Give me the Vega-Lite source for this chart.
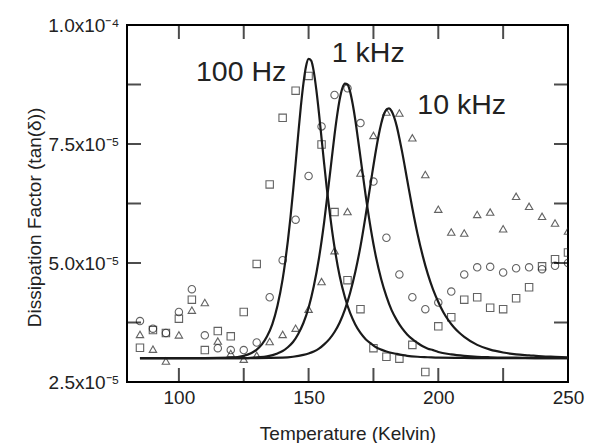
{
  "$schema": "https://vega.github.io/schema/vega-lite/v6.json",
  "width": 441,
  "height": 357,
  "autosize": "none",
  "padding": {"left": 127, "top": 25, "right": 22, "bottom": 61},
  "background": "white",
  "config": {
    "font": "Liberation Sans",
    "view": {"stroke": "black", "strokeWidth": 2},
    "axis": {
      "grid": false,
      "domain": false,
      "ticks": false,
      "labelColor": "#222",
      "titleColor": "#222",
      "labelFont": "Liberation Sans",
      "titleFont": "Liberation Sans",
      "labelFontSize": 19,
      "titleFontSize": 19,
      "titleFontWeight": "normal",
      "labelFlush": false,
      "labelOverlap": false
    }
  },
  "datasets": {
    "points": [
      {"T": 85, "tand": 3.22e-5, "freq": "100 Hz"}, {"T": 90, "tand": 3.59e-5, "freq": "100 Hz"}, {"T": 95, "tand": 3.53e-5, "freq": "100 Hz"}, {"T": 100, "tand": 3.83e-5, "freq": "100 Hz"}, {"T": 105, "tand": 4.23e-5, "freq": "100 Hz"}, {"T": 110, "tand": 3.17e-5, "freq": "100 Hz"}, {"T": 115, "tand": 3.57e-5, "freq": "100 Hz"}, {"T": 120, "tand": 3.46e-5, "freq": "100 Hz"}, {"T": 125, "tand": 3.97e-5, "freq": "100 Hz"}, {"T": 130, "tand": 4.98e-5, "freq": "100 Hz"}, {"T": 135, "tand": 6.65e-5, "freq": "100 Hz"}, {"T": 140, "tand": 8.05e-5, "freq": "100 Hz"}, {"T": 145, "tand": 8.62e-5, "freq": "100 Hz"}, {"T": 150, "tand": 8.93e-5, "freq": "100 Hz"}, {"T": 155, "tand": 7.49e-5, "freq": "100 Hz"}, {"T": 160, "tand": 6.07e-5, "freq": "100 Hz"}, {"T": 165, "tand": 4.64e-5, "freq": "100 Hz"}, {"T": 170, "tand": 4.03e-5, "freq": "100 Hz"}, {"T": 175, "tand": 3.21e-5, "freq": "100 Hz"}, {"T": 180, "tand": 3.03e-5, "freq": "100 Hz"}, {"T": 185, "tand": 2.99e-5, "freq": "100 Hz"}, {"T": 190, "tand": 3.28e-5, "freq": "100 Hz"}, {"T": 195, "tand": 2.71e-5, "freq": "100 Hz"}, {"T": 200, "tand": 3.67e-5, "freq": "100 Hz"}, {"T": 205, "tand": 3.86e-5, "freq": "100 Hz"}, {"T": 210, "tand": 4.23e-5, "freq": "100 Hz"}, {"T": 215, "tand": 4.28e-5, "freq": "100 Hz"}, {"T": 220, "tand": 4.06e-5, "freq": "100 Hz"}, {"T": 225, "tand": 4.03e-5, "freq": "100 Hz"}, {"T": 230, "tand": 4.26e-5, "freq": "100 Hz"}, {"T": 235, "tand": 4.49e-5, "freq": "100 Hz"}, {"T": 240, "tand": 4.93e-5, "freq": "100 Hz"}, {"T": 245, "tand": 5.08e-5, "freq": "100 Hz"}, {"T": 250, "tand": 5.22e-5, "freq": "100 Hz"},
      {"T": 85, "tand": 3.78e-5, "freq": "1 kHz"}, {"T": 90, "tand": 3.62e-5, "freq": "1 kHz"}, {"T": 95, "tand": 3.53e-5, "freq": "1 kHz"}, {"T": 100, "tand": 3.97e-5, "freq": "1 kHz"}, {"T": 105, "tand": 4.45e-5, "freq": "1 kHz"}, {"T": 110, "tand": 3.48e-5, "freq": "1 kHz"}, {"T": 115, "tand": 3.21e-5, "freq": "1 kHz"}, {"T": 120, "tand": 3.17e-5, "freq": "1 kHz"}, {"T": 125, "tand": 3.17e-5, "freq": "1 kHz"}, {"T": 130, "tand": 3.33e-5, "freq": "1 kHz"}, {"T": 135, "tand": 4.28e-5, "freq": "1 kHz"}, {"T": 140, "tand": 5.06e-5, "freq": "1 kHz"}, {"T": 145, "tand": 5.91e-5, "freq": "1 kHz"}, {"T": 150, "tand": 6.83e-5, "freq": "1 kHz"}, {"T": 155, "tand": 7.87e-5, "freq": "1 kHz"}, {"T": 160, "tand": 8.53e-5, "freq": "1 kHz"}, {"T": 165, "tand": 8.67e-5, "freq": "1 kHz"}, {"T": 170, "tand": 7.94e-5, "freq": "1 kHz"}, {"T": 175, "tand": 6.71e-5, "freq": "1 kHz"}, {"T": 180, "tand": 5.53e-5, "freq": "1 kHz"}, {"T": 185, "tand": 4.76e-5, "freq": "1 kHz"}, {"T": 190, "tand": 4.28e-5, "freq": "1 kHz"}, {"T": 195, "tand": 4.03e-5, "freq": "1 kHz"}, {"T": 200, "tand": 4.17e-5, "freq": "1 kHz"}, {"T": 205, "tand": 4.40e-5, "freq": "1 kHz"}, {"T": 210, "tand": 4.76e-5, "freq": "1 kHz"}, {"T": 215, "tand": 4.91e-5, "freq": "1 kHz"}, {"T": 220, "tand": 4.92e-5, "freq": "1 kHz"}, {"T": 225, "tand": 4.80e-5, "freq": "1 kHz"}, {"T": 230, "tand": 4.89e-5, "freq": "1 kHz"}, {"T": 235, "tand": 4.91e-5, "freq": "1 kHz"}, {"T": 240, "tand": 4.87e-5, "freq": "1 kHz"}, {"T": 245, "tand": 4.94e-5, "freq": "1 kHz"}, {"T": 250, "tand": 5.00e-5, "freq": "1 kHz"},
      {"T": 85, "tand": 3.50e-5, "freq": "10 kHz"}, {"T": 90, "tand": 3.19e-5, "freq": "10 kHz"}, {"T": 95, "tand": 2.94e-5, "freq": "10 kHz"}, {"T": 100, "tand": 3.49e-5, "freq": "10 kHz"}, {"T": 105, "tand": 4.01e-5, "freq": "10 kHz"}, {"T": 110, "tand": 4.17e-5, "freq": "10 kHz"}, {"T": 115, "tand": 3.36e-5, "freq": "10 kHz"}, {"T": 120, "tand": 3.10e-5, "freq": "10 kHz"}, {"T": 125, "tand": 2.98e-5, "freq": "10 kHz"}, {"T": 130, "tand": 3.06e-5, "freq": "10 kHz"}, {"T": 135, "tand": 3.35e-5, "freq": "10 kHz"}, {"T": 140, "tand": 3.50e-5, "freq": "10 kHz"}, {"T": 145, "tand": 3.63e-5, "freq": "10 kHz"}, {"T": 150, "tand": 4.03e-5, "freq": "10 kHz"}, {"T": 155, "tand": 4.61e-5, "freq": "10 kHz"}, {"T": 160, "tand": 5.26e-5, "freq": "10 kHz"}, {"T": 165, "tand": 6.08e-5, "freq": "10 kHz"}, {"T": 170, "tand": 6.89e-5, "freq": "10 kHz"}, {"T": 175, "tand": 7.68e-5, "freq": "10 kHz"}, {"T": 180, "tand": 8.17e-5, "freq": "10 kHz"}, {"T": 185, "tand": 8.15e-5, "freq": "10 kHz"}, {"T": 190, "tand": 7.63e-5, "freq": "10 kHz"}, {"T": 195, "tand": 6.86e-5, "freq": "10 kHz"}, {"T": 200, "tand": 6.13e-5, "freq": "10 kHz"}, {"T": 205, "tand": 5.65e-5, "freq": "10 kHz"}, {"T": 210, "tand": 5.63e-5, "freq": "10 kHz"}, {"T": 215, "tand": 6.02e-5, "freq": "10 kHz"}, {"T": 220, "tand": 6.07e-5, "freq": "10 kHz"}, {"T": 225, "tand": 5.72e-5, "freq": "10 kHz"}, {"T": 230, "tand": 6.40e-5, "freq": "10 kHz"}, {"T": 235, "tand": 6.19e-5, "freq": "10 kHz"}, {"T": 240, "tand": 5.98e-5, "freq": "10 kHz"}, {"T": 245, "tand": 5.84e-5, "freq": "10 kHz"}, {"T": 250, "tand": 5.67e-5, "freq": "10 kHz"}
    ],
    "fits": [
      {"T": 85, "tand": 3.0e-5, "freq": "100 Hz"}, {"T": 100, "tand": 3.0e-5, "freq": "100 Hz"}, {"T": 110, "tand": 3.0e-5, "freq": "100 Hz"}, {"T": 120, "tand": 3.01e-5, "freq": "100 Hz"}, {"T": 125, "tand": 3.05e-5, "freq": "100 Hz"}, {"T": 128, "tand": 3.11e-5, "freq": "100 Hz"}, {"T": 130, "tand": 3.18e-5, "freq": "100 Hz"}, {"T": 132, "tand": 3.29e-5, "freq": "100 Hz"}, {"T": 134, "tand": 3.46e-5, "freq": "100 Hz"}, {"T": 136, "tand": 3.71e-5, "freq": "100 Hz"}, {"T": 138, "tand": 4.10e-5, "freq": "100 Hz"}, {"T": 140, "tand": 4.66e-5, "freq": "100 Hz"}, {"T": 141, "tand": 5.03e-5, "freq": "100 Hz"}, {"T": 142, "tand": 5.46e-5, "freq": "100 Hz"}, {"T": 143, "tand": 5.95e-5, "freq": "100 Hz"}, {"T": 144, "tand": 6.50e-5, "freq": "100 Hz"}, {"T": 145, "tand": 7.09e-5, "freq": "100 Hz"}, {"T": 146, "tand": 7.70e-5, "freq": "100 Hz"}, {"T": 147, "tand": 8.28e-5, "freq": "100 Hz"}, {"T": 148, "tand": 8.77e-5, "freq": "100 Hz"}, {"T": 149, "tand": 9.13e-5, "freq": "100 Hz"}, {"T": 150, "tand": 9.29e-5, "freq": "100 Hz"}, {"T": 151, "tand": 9.25e-5, "freq": "100 Hz"}, {"T": 152, "tand": 9.02e-5, "freq": "100 Hz"}, {"T": 153, "tand": 8.63e-5, "freq": "100 Hz"}, {"T": 154, "tand": 8.15e-5, "freq": "100 Hz"}, {"T": 155, "tand": 7.62e-5, "freq": "100 Hz"}, {"T": 156, "tand": 7.09e-5, "freq": "100 Hz"}, {"T": 157, "tand": 6.58e-5, "freq": "100 Hz"}, {"T": 158, "tand": 6.12e-5, "freq": "100 Hz"}, {"T": 159, "tand": 5.70e-5, "freq": "100 Hz"}, {"T": 160, "tand": 5.33e-5, "freq": "100 Hz"}, {"T": 162, "tand": 4.72e-5, "freq": "100 Hz"}, {"T": 164, "tand": 4.28e-5, "freq": "100 Hz"}, {"T": 166, "tand": 3.95e-5, "freq": "100 Hz"}, {"T": 168, "tand": 3.71e-5, "freq": "100 Hz"}, {"T": 170, "tand": 3.53e-5, "freq": "100 Hz"}, {"T": 172, "tand": 3.40e-5, "freq": "100 Hz"}, {"T": 174, "tand": 3.31e-5, "freq": "100 Hz"}, {"T": 176, "tand": 3.23e-5, "freq": "100 Hz"}, {"T": 178, "tand": 3.18e-5, "freq": "100 Hz"}, {"T": 180, "tand": 3.14e-5, "freq": "100 Hz"}, {"T": 184, "tand": 3.09e-5, "freq": "100 Hz"}, {"T": 188, "tand": 3.05e-5, "freq": "100 Hz"}, {"T": 192, "tand": 3.03e-5, "freq": "100 Hz"}, {"T": 196, "tand": 3.02e-5, "freq": "100 Hz"}, {"T": 200, "tand": 3.01e-5, "freq": "100 Hz"}, {"T": 210, "tand": 3.005e-5, "freq": "100 Hz"}, {"T": 220, "tand": 3.0e-5, "freq": "100 Hz"}, {"T": 250, "tand": 3.0e-5, "freq": "100 Hz"},
      {"T": 85, "tand": 3.0e-5, "freq": "1 kHz"}, {"T": 110, "tand": 3.0e-5, "freq": "1 kHz"}, {"T": 125, "tand": 3.0e-5, "freq": "1 kHz"}, {"T": 130, "tand": 3.02e-5, "freq": "1 kHz"}, {"T": 134, "tand": 3.04e-5, "freq": "1 kHz"}, {"T": 138, "tand": 3.10e-5, "freq": "1 kHz"}, {"T": 140, "tand": 3.15e-5, "freq": "1 kHz"}, {"T": 142, "tand": 3.23e-5, "freq": "1 kHz"}, {"T": 144, "tand": 3.34e-5, "freq": "1 kHz"}, {"T": 146, "tand": 3.51e-5, "freq": "1 kHz"}, {"T": 148, "tand": 3.74e-5, "freq": "1 kHz"}, {"T": 150, "tand": 4.06e-5, "freq": "1 kHz"}, {"T": 152, "tand": 4.51e-5, "freq": "1 kHz"}, {"T": 154, "tand": 5.10e-5, "freq": "1 kHz"}, {"T": 156, "tand": 5.86e-5, "freq": "1 kHz"}, {"T": 158, "tand": 6.76e-5, "freq": "1 kHz"}, {"T": 159, "tand": 7.23e-5, "freq": "1 kHz"}, {"T": 160, "tand": 7.69e-5, "freq": "1 kHz"}, {"T": 161, "tand": 8.10e-5, "freq": "1 kHz"}, {"T": 162, "tand": 8.44e-5, "freq": "1 kHz"}, {"T": 163, "tand": 8.67e-5, "freq": "1 kHz"}, {"T": 164, "tand": 8.77e-5, "freq": "1 kHz"}, {"T": 165, "tand": 8.75e-5, "freq": "1 kHz"}, {"T": 166, "tand": 8.60e-5, "freq": "1 kHz"}, {"T": 167, "tand": 8.34e-5, "freq": "1 kHz"}, {"T": 168, "tand": 8.01e-5, "freq": "1 kHz"}, {"T": 169, "tand": 7.62e-5, "freq": "1 kHz"}, {"T": 170, "tand": 7.22e-5, "freq": "1 kHz"}, {"T": 172, "tand": 6.42e-5, "freq": "1 kHz"}, {"T": 174, "tand": 5.71e-5, "freq": "1 kHz"}, {"T": 176, "tand": 5.12e-5, "freq": "1 kHz"}, {"T": 178, "tand": 4.66e-5, "freq": "1 kHz"}, {"T": 180, "tand": 4.30e-5, "freq": "1 kHz"}, {"T": 182, "tand": 4.01e-5, "freq": "1 kHz"}, {"T": 184, "tand": 3.80e-5, "freq": "1 kHz"}, {"T": 186, "tand": 3.63e-5, "freq": "1 kHz"}, {"T": 188, "tand": 3.50e-5, "freq": "1 kHz"}, {"T": 190, "tand": 3.40e-5, "freq": "1 kHz"}, {"T": 192, "tand": 3.32e-5, "freq": "1 kHz"}, {"T": 194, "tand": 3.25e-5, "freq": "1 kHz"}, {"T": 196, "tand": 3.20e-5, "freq": "1 kHz"}, {"T": 198, "tand": 3.17e-5, "freq": "1 kHz"}, {"T": 200, "tand": 3.13e-5, "freq": "1 kHz"}, {"T": 205, "tand": 3.08e-5, "freq": "1 kHz"}, {"T": 210, "tand": 3.05e-5, "freq": "1 kHz"}, {"T": 215, "tand": 3.03e-5, "freq": "1 kHz"}, {"T": 220, "tand": 3.02e-5, "freq": "1 kHz"}, {"T": 230, "tand": 3.01e-5, "freq": "1 kHz"}, {"T": 240, "tand": 3.0e-5, "freq": "1 kHz"}, {"T": 250, "tand": 3.0e-5, "freq": "1 kHz"},
      {"T": 85, "tand": 3.0e-5, "freq": "10 kHz"}, {"T": 130, "tand": 3.0e-5, "freq": "10 kHz"}, {"T": 140, "tand": 3.01e-5, "freq": "10 kHz"}, {"T": 144, "tand": 3.03e-5, "freq": "10 kHz"}, {"T": 148, "tand": 3.07e-5, "freq": "10 kHz"}, {"T": 150, "tand": 3.10e-5, "freq": "10 kHz"}, {"T": 152, "tand": 3.14e-5, "freq": "10 kHz"}, {"T": 154, "tand": 3.20e-5, "freq": "10 kHz"}, {"T": 156, "tand": 3.29e-5, "freq": "10 kHz"}, {"T": 158, "tand": 3.40e-5, "freq": "10 kHz"}, {"T": 160, "tand": 3.55e-5, "freq": "10 kHz"}, {"T": 162, "tand": 3.75e-5, "freq": "10 kHz"}, {"T": 164, "tand": 4.02e-5, "freq": "10 kHz"}, {"T": 166, "tand": 4.37e-5, "freq": "10 kHz"}, {"T": 168, "tand": 4.81e-5, "freq": "10 kHz"}, {"T": 170, "tand": 5.35e-5, "freq": "10 kHz"}, {"T": 172, "tand": 6.00e-5, "freq": "10 kHz"}, {"T": 174, "tand": 6.70e-5, "freq": "10 kHz"}, {"T": 176, "tand": 7.38e-5, "freq": "10 kHz"}, {"T": 177, "tand": 7.68e-5, "freq": "10 kHz"}, {"T": 178, "tand": 7.93e-5, "freq": "10 kHz"}, {"T": 179, "tand": 8.12e-5, "freq": "10 kHz"}, {"T": 180, "tand": 8.22e-5, "freq": "10 kHz"}, {"T": 181, "tand": 8.25e-5, "freq": "10 kHz"}, {"T": 182, "tand": 8.19e-5, "freq": "10 kHz"}, {"T": 183, "tand": 8.06e-5, "freq": "10 kHz"}, {"T": 184, "tand": 7.87e-5, "freq": "10 kHz"}, {"T": 185, "tand": 7.62e-5, "freq": "10 kHz"}, {"T": 186, "tand": 7.35e-5, "freq": "10 kHz"}, {"T": 188, "tand": 6.75e-5, "freq": "10 kHz"}, {"T": 190, "tand": 6.15e-5, "freq": "10 kHz"}, {"T": 192, "tand": 5.61e-5, "freq": "10 kHz"}, {"T": 194, "tand": 5.15e-5, "freq": "10 kHz"}, {"T": 196, "tand": 4.76e-5, "freq": "10 kHz"}, {"T": 198, "tand": 4.44e-5, "freq": "10 kHz"}, {"T": 200, "tand": 4.18e-5, "freq": "10 kHz"}, {"T": 202, "tand": 3.96e-5, "freq": "10 kHz"}, {"T": 204, "tand": 3.79e-5, "freq": "10 kHz"}, {"T": 206, "tand": 3.65e-5, "freq": "10 kHz"}, {"T": 208, "tand": 3.54e-5, "freq": "10 kHz"}, {"T": 210, "tand": 3.45e-5, "freq": "10 kHz"}, {"T": 215, "tand": 3.28e-5, "freq": "10 kHz"}, {"T": 220, "tand": 3.18e-5, "freq": "10 kHz"}, {"T": 225, "tand": 3.12e-5, "freq": "10 kHz"}, {"T": 230, "tand": 3.08e-5, "freq": "10 kHz"}, {"T": 235, "tand": 3.06e-5, "freq": "10 kHz"}, {"T": 240, "tand": 3.04e-5, "freq": "10 kHz"}, {"T": 245, "tand": 3.03e-5, "freq": "10 kHz"}, {"T": 250, "tand": 3.02e-5, "freq": "10 kHz"}
    ],
    "labels": [
      {"T": 124, "tand": 8.83e-5, "text": "100 Hz"},
      {"T": 173, "tand": 9.22e-5, "text": "1 kHz"},
      {"T": 209, "tand": 8.13e-5, "text": "10 kHz"}
    ],
    "xticks": [{"T": 100}, {"T": 125}, {"T": 150}, {"T": 175}, {"T": 200}, {"T": 225}],
    "yticks": [{"tand": 3.75e-5}, {"tand": 5e-5}, {"tand": 6.25e-5}, {"tand": 7.5e-5}, {"tand": 8.75e-5}]
  },
  "layer": [
    {
      "data": {"name": "points"},
      "mark": {"type": "point", "filled": false, "size": 55, "strokeWidth": 1.1, "color": "#222", "clip": true},
      "encoding": {
        "x": {
          "field": "T", "type": "quantitative",
          "scale": {"domain": [80, 250], "nice": false, "zero": false},
          "axis": {
            "orient": "bottom",
            "values": [100, 150, 200, 250],
            "labelPadding": 6,
            "title": "Temperature (Kelvin)",
            "titleBaseline": "alphabetic",
            "titleY": 57
          }
        },
        "y": {
          "field": "tand", "type": "quantitative",
          "scale": {"domain": [2.5e-5, 1e-4], "nice": false, "zero": false},
          "axis": {
            "orient": "left",
            "values": [2.5e-5, 5e-5, 7.5e-5, 1e-4],
            "labelExpr": "datum.value > 9.9e-5 ? '1.0x10⁻⁴' : format(datum.value*1e5, '.1f') + 'x10⁻⁵'",
            "labelPadding": 8,
            "title": "Dissipation Factor (tan(δ))",
            "titleBaseline": "alphabetic",
            "titleX": -87,
            "titleY": 192
          }
        },
        "shape": {
          "field": "freq", "type": "nominal",
          "scale": {"domain": ["100 Hz", "1 kHz", "10 kHz"], "range": ["square", "circle", "triangle-up"]},
          "legend": null
        }
      }
    },
    {
      "data": {"name": "fits"},
      "mark": {"type": "line", "color": "#1a1a1a", "strokeWidth": 2.2, "interpolate": "monotone", "clip": true},
      "encoding": {
        "x": {"field": "T", "type": "quantitative"},
        "y": {"field": "tand", "type": "quantitative"},
        "detail": {"field": "freq", "type": "nominal"}
      }
    },
    {
      "data": {"name": "xticks"},
      "mark": {"type": "tick", "orient": "vertical", "thickness": 2, "size": 14, "yOffset": -7, "color": "black"},
      "encoding": {
        "x": {"field": "T", "type": "quantitative"},
        "y": {"datum": 2.5e-5}
      }
    },
    {
      "data": {"name": "xticks"},
      "mark": {"type": "tick", "orient": "vertical", "thickness": 2, "size": 14, "yOffset": 7, "color": "black"},
      "encoding": {
        "x": {"field": "T", "type": "quantitative"},
        "y": {"datum": 1e-4}
      }
    },
    {
      "data": {"name": "yticks"},
      "mark": {"type": "tick", "orient": "horizontal", "thickness": 2, "size": 14, "xOffset": 7, "color": "black"},
      "encoding": {
        "y": {"field": "tand", "type": "quantitative"},
        "x": {"datum": 80}
      }
    },
    {
      "data": {"name": "yticks"},
      "mark": {"type": "tick", "orient": "horizontal", "thickness": 2, "size": 14, "xOffset": -7, "color": "black"},
      "encoding": {
        "y": {"field": "tand", "type": "quantitative"},
        "x": {"datum": 250}
      }
    },
    {
      "data": {"name": "labels"},
      "mark": {"type": "text", "fontSize": 28.5, "font": "Liberation Sans", "color": "#222", "align": "center", "baseline": "alphabetic"},
      "encoding": {
        "x": {"field": "T", "type": "quantitative"},
        "y": {"field": "tand", "type": "quantitative"},
        "text": {"field": "text"}
      }
    }
  ]
}
